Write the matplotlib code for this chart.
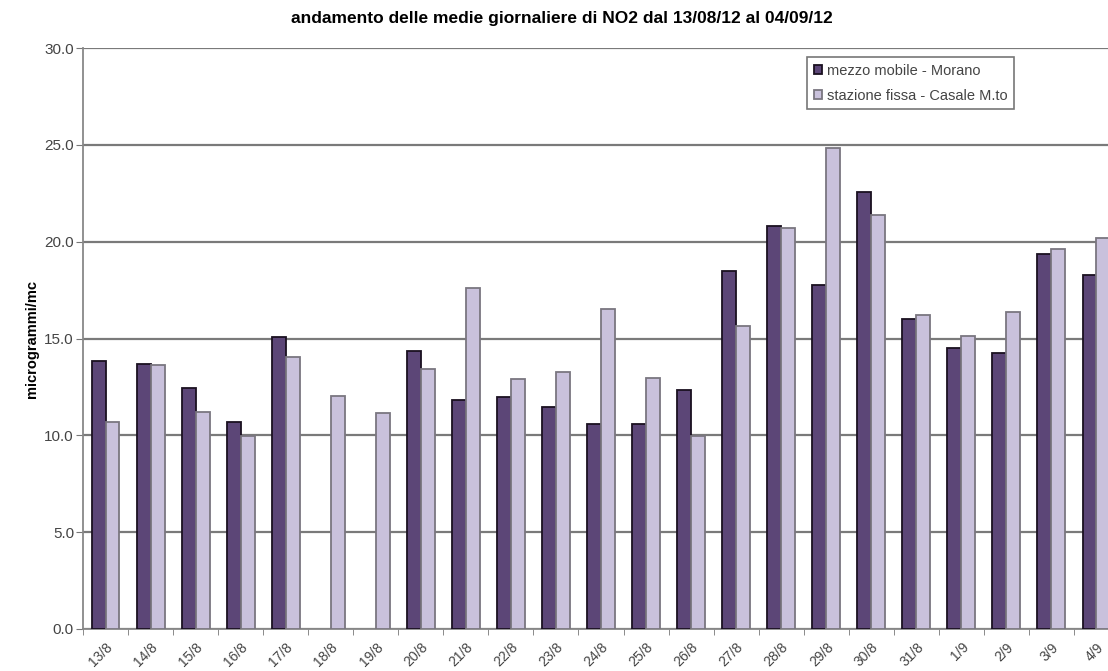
import matplotlib
matplotlib.use("Agg")
import matplotlib.pyplot as plt
import numpy as np

plt.rcParams['font.family'] = ['Liberation Sans', 'DejaVu Sans']

days = ["13/8", "14/8", "15/8", "16/8", "17/8", "18/8", "19/8", "20/8", "21/8",
        "22/8", "23/8", "24/8", "25/8", "26/8", "27/8", "28/8", "29/8", "30/8",
        "31/8", "1/9", "2/9", "3/9", "4/9"]
morano = [13.83, 13.69, 12.45, 10.69, 15.09, np.nan, np.nan, 14.38, 11.85,
          11.97, 11.47, 10.6, 10.6, 12.33, 18.48, 20.82, 17.76, 22.57,
          16.02, 14.5, 14.26, 19.38, 18.28]
casale = [10.67, 13.62, 11.23, 9.95, 14.03, 12.05, 11.16, 13.45, 17.59,
          12.93, 13.28, 16.54, 12.97, 9.98, 15.63, 20.73, 24.83, 21.38,
          16.21, 15.13, 16.38, 19.64, 20.2]
series_names = ["mezzo mobile - Morano", "stazione fissa - Casale M.to"]

dark = "#5c4677"
light = "#c9c1dc"

fig = plt.figure(figsize=(11.08, 6.71), dpi=100)
ax = fig.add_axes([83 / 1108, 42 / 671, 1036 / 1108, 581 / 671])

x = np.arange(len(days))
w = 0.31
ax.bar(x - w / 2, morano, w, color=dark, edgecolor="#1a1020", linewidth=1.3,
       label=series_names[0], zorder=3)
ax.bar(x + w / 2, casale, w, color=light, edgecolor="#7a7680", linewidth=1.3,
       label=series_names[1], zorder=3)

ax.set_xlim(-0.5, len(days) - 0.5)
ax.set_ylim(0, 30)
ax.set_yticks(np.arange(0, 30.1, 5))
ax.set_yticklabels([f"{v:.1f}" for v in np.arange(0, 30.1, 5)])
ax.yaxis.grid(True, color="#7a7a7a", linewidth=1.6, zorder=0)
ax.set_axisbelow(True)

ax.set_xticks(x)
ax.set_xticklabels(days, rotation=45, ha="right", rotation_mode="anchor",
                   fontsize=10, color="#444444")
ax.set_xticks(np.arange(-0.5, len(days), 1), minor=True)
ax.tick_params(axis="x", which="major", length=0, pad=8)
ax.tick_params(axis="x", which="minor", length=4, color="#777777", direction="out")
ax.tick_params(axis="y", length=5, color="#777777", labelsize=11,
               labelcolor="#444444", pad=1.5)

for side in ["top", "right"]:
    ax.spines[side].set_visible(False)
ax.spines["left"].set_color("#888888")
ax.spines["left"].set_linewidth(1.3)
ax.spines["bottom"].set_color("#888888")
ax.spines["bottom"].set_linewidth(1.3)

ax.set_ylabel("microgrammi/mc", fontsize=10.5, fontweight="bold", labelpad=4)

fig.text(562 / 1108, 1 - 18 / 671,
         "andamento delle medie giornaliere di NO2 dal 13/08/12 al 04/09/12",
         ha="center", va="center", fontsize=12.5, fontweight="bold")

leg = ax.legend(loc="upper left", bbox_to_anchor=((807 - 83) / 1036, (629 - 57) / 581),
                fontsize=10.5, frameon=True, fancybox=False, edgecolor="#555555",
                handlelength=0.6, handleheight=0.6, handletextpad=0.3,
                borderpad=0.45, labelspacing=0.75, borderaxespad=0)
leg.get_frame().set_linewidth(1.2)
for t in leg.get_texts():
    t.set_color("#444444")

fig.savefig("out.png", dpi=100)
